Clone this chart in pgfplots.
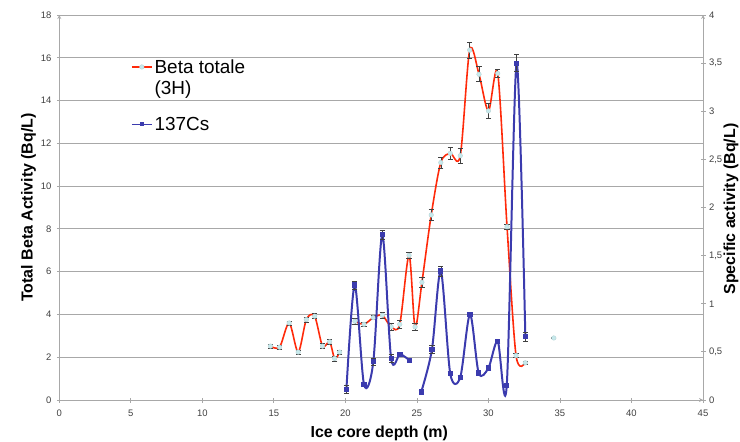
\documentclass[border=0pt]{standalone}
\usepackage{pgfplots}
\pgfplotsset{compat=1.18}
\usepackage{pgfplotstable}
\usepackage{fontspec}
\setmainfont{Liberation Sans}
\definecolor{betared}{HTML}{FF2A0A}
\definecolor{csblue}{HTML}{3B3BAE}
\definecolor{markcyan}{HTML}{C6E9EC}
\definecolor{gridgray}{HTML}{A8A8A8}
\definecolor{ticktext}{HTML}{404040}

% Beta totale (3H), Bq/L -- nan rows are gaps in the line
\pgfplotstableread{
depth val err
14.76 2.52 0.10
15.40 2.47 0.10
16.07 3.60 0.10
16.70 2.24 0.10
17.27 3.76 0.12
17.85 3.92 0.12
18.40 2.52 0.12
18.90 2.72 0.10
19.25 1.94 0.12
19.60 2.24 0.10
20.10 nan  nan
20.67 3.68 0.12
21.30 3.54 0.10
21.95 3.85 0.10
22.58 3.96 0.12
23.20 3.42 0.15
23.80 3.54 0.20
24.45 6.76 0.15
24.87 3.42 0.15
25.35 5.50 0.22
26.00 8.65 0.25
26.67 11.10 0.27
27.33 11.53 0.27
28.03 11.42 0.35
28.69 16.36 0.37
29.34 15.23 0.35
30.00 13.52 0.33
30.65 15.27 0.20
31.30 8.10 0.10
31.93 2.08 0.10
32.58 1.74 0.05
33.50 nan  nan
34.57 2.90 0.03
}\betadata

% 137Cs specific activity, Bq/L
\pgfplotstableread{
depth val err
20.07 0.108 0.04
20.65 1.195 0.04
21.30 0.163 0.02
21.95 0.396 0.04
22.58 1.716 0.05
23.20 0.430 0.04
23.82 0.476 0.02
24.47 0.413 0.02
24.90 nan   nan
25.30 0.083 0.02
26.05 0.525 0.04
26.67 1.340 0.05
27.33 0.275 0.02
28.03 0.236 0.02
28.71 0.890 0.02
29.32 0.280 0.02
30.00 0.333 0.02
30.65 0.610 0.02
31.28 0.153 0.02
31.97 3.500 0.09
32.58 0.656 0.05
}\csdata

\begin{document}
\begin{tikzpicture}
\pgfplotsset{
  common/.style={
    scale only axis,
    width=643.7bp,
    height=385bp,
    at={(0,0)},
    anchor=south west,
    xmin=0, xmax=45,
    tick align=outside,
    major tick length=5bp,
    tick style={gridgray, line width=0.8pt},
    axis line style={gridgray, line width=0.8pt, -},
    ticklabel style={font=\fontsize{9.5}{11}\selectfont, text=ticktext},
    /pgf/number format/assume math mode=true,
    unbounded coords=jump,
    legend image code/.code={
      \draw[mark repeat=2, mark phase=2, #1] plot coordinates {(0bp,0bp) (10bp,0bp) (20bp,0bp)};
    },
  },
}
\begin{axis}[
  common,
  axis x line=bottom,
  axis y line=left,
  ymin=0, ymax=18,
  ytick distance=2,
  xtick distance=5,
  xticklabel style={yshift=-4bp},
  yticklabel style={xshift=-2bp},
  ymajorgrids=true,
  grid style={gridgray, line width=0.8pt},
  xlabel={Ice core depth (m)},
  ylabel={Total Beta Activity (Bq/L)},
  xlabel style={at={(axis description cs:0.497,-0.0857)}, anchor=center, font=\fontsize{16}{18}\selectfont\bfseries},
  ylabel style={at={(axis description cs:-0.048,0.5)}, anchor=center, font=\fontsize{16}{18}\selectfont\bfseries},
  legend style={at={(axis cs:5.0,16.05)}, anchor=north west, draw=none, fill=none,
    font=\fontsize{19}{21}\selectfont, row sep=38bp, inner sep=0pt},
  legend cell align=left,
]
\addplot[betared, line width=1.6pt, smooth,
  mark=*, mark size=2.3pt, mark options={fill=markcyan, draw=markcyan!80!gray, line width=0.4pt},
  error bars/.cd, y dir=both, y explicit,
  error bar style={black!75, line width=0.6pt},
  error mark options={rotate=90, mark size=2.6pt, black!75, line width=0.6pt},
] table[x=depth, y=val, y error=err] {\betadata};
\addlegendentry{\begin{tabular}[t]{@{}l@{}}Beta totale\\(3H)\end{tabular}}
\addlegendimage{csblue, line width=1.6pt, mark=square*, mark size=1.2pt, mark options={fill=csblue}}
\addlegendentry{137Cs}
\end{axis}

\begin{axis}[
  common,
  axis x line=none,
  axis y line=right,
  ymin=0, ymax=4,
  ytick distance=0.5,
  yticklabel style={/pgf/number format/.cd, use comma, fixed},
  ylabel={Specific activity (Bq/L)},
  ylabel style={at={(axis description cs:1.0435,0.496)}, anchor=center, rotate=0,
    font=\fontsize{16}{18}\selectfont\bfseries},
]
\addplot[csblue, line width=2pt, smooth,
  mark=square*, mark size=1.6pt, mark options={fill=csblue, draw=csblue},
  error bars/.cd, y dir=both, y explicit,
  error bar style={black!75, line width=0.6pt},
  error mark options={rotate=90, mark size=2.6pt, black!75, line width=0.6pt},
] table[x=depth, y=val, y error=err] {\csdata};
\end{axis}
\pgfresetboundingbox
\path[use as bounding box] (-59.3bp,-42bp) rectangle (680.7bp,400bp);
\end{tikzpicture}
\end{document}
